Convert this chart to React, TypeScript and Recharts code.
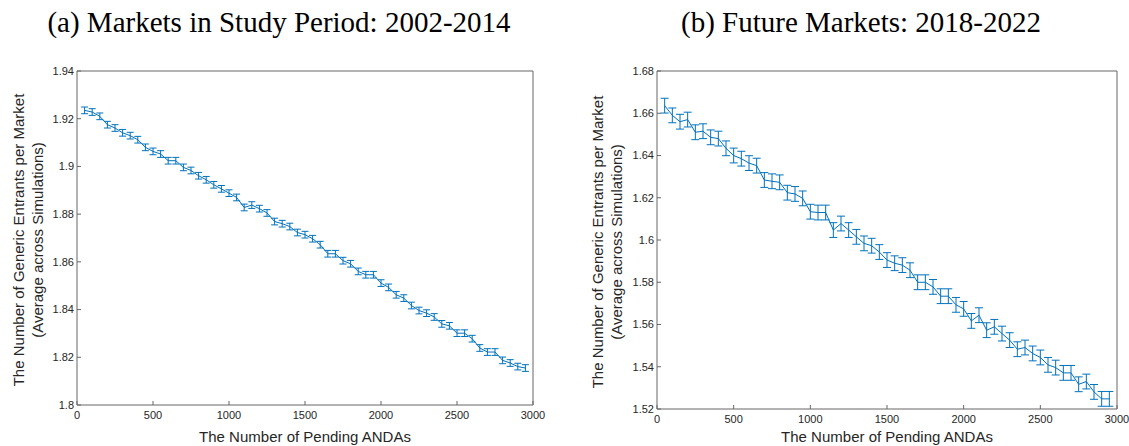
import { ErrorBar, Line, LineChart, XAxis, YAxis } from "recharts"

// pending ANDAs (x positions of the simulated points)
const ANDAS = [
  50, 100, 150, 200, 250, 300, 350, 400, 450, 500,
  550, 600, 650, 700, 750, 800, 850, 900, 950, 1000,
  1050, 1100, 1150, 1200, 1250, 1300, 1350, 1400, 1450, 1500,
  1550, 1600, 1650, 1700, 1750, 1800, 1850, 1900, 1950, 2000,
  2050, 2100, 2150, 2200, 2250, 2300, 2350, 2400, 2450, 2500,
  2550, 2600, 2650, 2700, 2750, 2800, 2850, 2900, 2950,
]

// (a) study period 2002-2014
const STUDY_MEAN = [
  1.9235, 1.9228, 1.921, 1.9175, 1.9161, 1.9141, 1.9129, 1.9112, 1.908, 1.9063,
  1.9052, 1.9024, 1.9024, 1.8996, 1.8983, 1.8961, 1.8944, 1.8923, 1.8906, 1.8888,
  1.887, 1.8828, 1.8838, 1.8823, 1.8805, 1.8769, 1.876, 1.8748, 1.8723, 1.8714,
  1.8697, 1.8672, 1.8634, 1.8634, 1.8605, 1.8592, 1.856, 1.8546, 1.8546, 1.8511,
  1.8493, 1.8462, 1.8448, 1.8417, 1.8396, 1.8385, 1.8369, 1.834, 1.8332, 1.8301,
  1.8301, 1.8278, 1.8239, 1.8222, 1.8222, 1.8187, 1.8176, 1.8161, 1.8155,
]
const STUDY_ERR = 0.0014

// (b) future markets 2018-2022
const FUTURE_MEAN = [
  1.6636, 1.659, 1.656, 1.657, 1.651, 1.6515, 1.6486, 1.648, 1.6434, 1.64,
  1.6385, 1.6364, 1.6352, 1.6284, 1.6278, 1.6273, 1.6224, 1.6218, 1.6197, 1.6134,
  1.613, 1.613, 1.6047, 1.6078, 1.6047, 1.6015, 1.5984, 1.5973, 1.5943, 1.5905,
  1.589, 1.5881, 1.5857, 1.58, 1.58, 1.5778, 1.5734, 1.5734, 1.5693, 1.5674,
  1.5617, 1.5644, 1.5573, 1.5589, 1.5557, 1.5526, 1.5483, 1.5491, 1.5463, 1.5444,
  1.5409, 1.5396, 1.5371, 1.5371, 1.5317, 1.533, 1.5281, 1.5248, 1.5248,
]
const FUTURE_ERR = 0.0035

const X_TICKS = [0, 500, 1000, 1500, 2000, 2500, 3000]
const STUDY_Y_TICKS = [1.8, 1.82, 1.84, 1.86, 1.88, 1.9, 1.92, 1.94]
const FUTURE_Y_TICKS = [1.52, 1.54, 1.56, 1.58, 1.6, 1.62, 1.64, 1.66, 1.68]

const studyData = ANDAS.map((x, i) => ({ x, v: STUDY_MEAN[i], err: STUDY_ERR }))
const futureData = ANDAS.map((x, i) => ({ x, v: FUTURE_MEAN[i], err: FUTURE_ERR }))

const BLUE = "#0072BD"
const AXIS = "#666666"
const SANS = "'Liberation Sans', Arial, sans-serif"
const tickStyle = { fill: "#262626", fontSize: 11, fontFamily: SANS }

interface PanelProps {
  data: { x: number; v: number; err: number }[]
  yTicks: number[]
  width: number
  margin: { top: number; left: number; right: number; bottom: number }
  capWidth: number
}

function Panel({ data, yTicks, width, margin, capWidth }: PanelProps) {
  const yDomain = [yTicks[0], yTicks[yTicks.length - 1]]
  return (
    <LineChart width={width} height={446} data={data} margin={margin}>
      <XAxis
        xAxisId="bottom"
        dataKey="x"
        type="number"
        domain={[0, 3000]}
        ticks={X_TICKS}
        allowDataOverflow
        height={20}
        tickSize={-4}
        tickMargin={10}
        tick={tickStyle}
        stroke={AXIS}
        interval={0}
      />
      <XAxis
        xAxisId="top"
        orientation="top"
        type="number"
        domain={[0, 3000]}
        ticks={X_TICKS}
        allowDataOverflow
        height={1}
        tickSize={-4}
        tick={false}
        stroke={AXIS}
        interval={0}
      />
      <YAxis
        yAxisId="left"
        type="number"
        domain={yDomain}
        ticks={yTicks}
        allowDataOverflow
        width={40}
        tickSize={-4}
        tickMargin={7}
        tick={tickStyle}
        stroke={AXIS}
        interval={0}
      />
      <YAxis
        yAxisId="right"
        orientation="right"
        type="number"
        domain={yDomain}
        ticks={yTicks}
        allowDataOverflow
        width={1}
        tickSize={-4}
        tick={false}
        stroke={AXIS}
        interval={0}
      />
      <Line
        xAxisId="bottom"
        yAxisId="left"
        type="linear"
        dataKey="v"
        stroke={BLUE}
        strokeWidth={1}
        dot={false}
        isAnimationActive={false}
      >
        <ErrorBar dataKey="err" direction="y" width={capWidth} stroke={BLUE} strokeWidth={1} isAnimationActive={false} />
      </Line>
    </LineChart>
  )
}

const titleStyle: React.CSSProperties = {
  position: "absolute",
  top: 22,
  transform: "translate(-50%, -50%)",
  whiteSpace: "nowrap",
  fontFamily: "'Liberation Serif', 'Times New Roman', serif",
  fontSize: 29,
  color: "#000",
}

const labelStyle: React.CSSProperties = {
  position: "absolute",
  whiteSpace: "nowrap",
  fontFamily: SANS,
  fontSize: 15,
  lineHeight: "18.5px",
  color: "#262626",
  textAlign: "center",
}

function YLabel({ cx, cy }: { cx: number; cy: number }) {
  return (
    <div style={{ ...labelStyle, left: cx, top: cy, transform: "translate(-50%, -50%) rotate(-90deg)" }}>
      The Number of Generic Entrants per Market
      <br />
      (Average across Simulations)
    </div>
  )
}

function XLabel({ cx, cy }: { cx: number; cy: number }) {
  return (
    <div style={{ ...labelStyle, left: cx, top: cy, transform: "translate(-50%, -50%)" }}>
      The Number of Pending ANDAs
    </div>
  )
}

export default function App() {
  return (
    <div style={{ position: "absolute", left: 0, top: 0, width: 1129, height: 446, overflow: "hidden", background: "#fff" }}>
      <div style={{ ...titleStyle, left: 279 }}>(a) Markets in Study Period: 2002-2014</div>
      <div style={{ ...titleStyle, left: 861 }}>(b) Future Markets: 2018-2022</div>

      <div style={{ position: "absolute", left: 0, top: 0 }}>
        <Panel
          data={studyData}
          yTicks={STUDY_Y_TICKS}
          width={560}
          margin={{ top: 70, left: 37, right: 26, bottom: 21 }}
          capWidth={3.5}
        />
      </div>
      <div style={{ position: "absolute", left: 560, top: 0 }}>
        <Panel
          data={futureData}
          yTicks={FUTURE_Y_TICKS}
          width={569}
          margin={{ top: 70, left: 57, right: 11, bottom: 17 }}
          capWidth={4}
        />
      </div>

      <YLabel cx={28} cy={240} />
      <YLabel cx={607} cy={242} />
      <XLabel cx={305} cy={437} />
      <XLabel cx={887} cy={437} />
    </div>
  )
}
